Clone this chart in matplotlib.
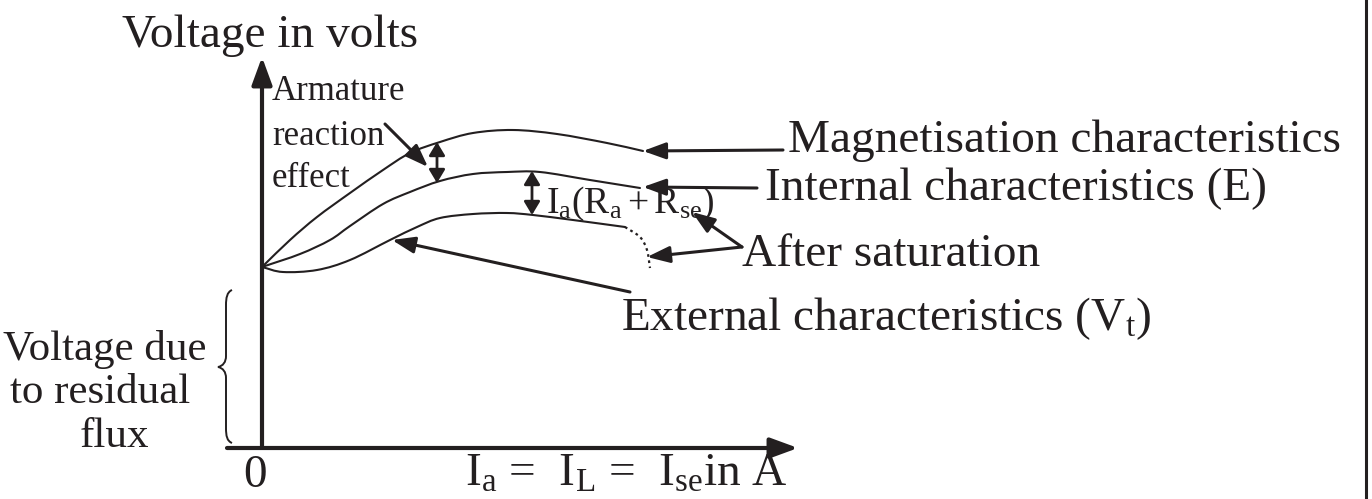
import numpy as np
import matplotlib
matplotlib.use("Agg")
import matplotlib.pyplot as plt
from matplotlib.path import Path
from matplotlib.patches import PathPatch

plt.rcParams["font.family"] = ["Liberation Serif", "DejaVu Serif"]
plt.rcParams["mathtext.fontset"] = "custom"
plt.rcParams["mathtext.rm"] = "Liberation Serif"
plt.rcParams["mathtext.it"] = "Liberation Serif:italic"
plt.rcParams["mathtext.bf"] = "Liberation Serif:bold"

INK = "#231f20"

# Characteristic curves (current along x, voltage along y; origin at 0, 0)
mag_i = [0, 28, 55, 88, 121, 148, 178, 211, 251, 295, 345, 381]
mag_v = [181, 208, 231, 255, 278, 295, 306, 315, 318, 314, 305, 297]

int_i = [0, 38, 68, 88, 121, 148, 178, 211, 245, 278, 328, 378]
int_v = [181, 194, 208, 222, 244, 256, 267, 274, 276, 276, 268, 260]

ext_i = [0, 21, 55, 88, 128, 155, 178, 211, 245, 271, 311, 363]
ext_v = [181, 176, 178, 188, 208, 221, 230, 234, 235, 233, 228, 221]

# External characteristic after saturation (dotted)
sat_i = [363, 378, 385, 388]
sat_v = [221, 211, 198, 180]


def spline_path(xs, ys):
    """Smooth Catmull-Rom curve through the given points as a Bezier path."""
    pts = np.column_stack([xs, ys]).astype(float)
    ext = np.vstack([2 * pts[0] - pts[1], pts, 2 * pts[-1] - pts[-2]])
    verts = [pts[0]]
    codes = [Path.MOVETO]
    for i in range(1, len(ext) - 2):
        p0, p1, p2, p3 = ext[i - 1], ext[i], ext[i + 1], ext[i + 2]
        verts += [p1 + (p2 - p0) / 6, p2 - (p3 - p1) / 6, p2]
        codes += [Path.CURVE4] * 3
    return Path(verts, codes)


fig = plt.figure(figsize=(13.72, 4.99), dpi=100)
ax = fig.add_axes([0, 0, 1, 1])
ax.set_xlim(-262, 1110)
ax.set_ylim(-51, 448)
ax.axis("off")


def arrow(tail, tip, lw=2.2, style="-|>", hl=0.55, hw=0.2, ms=25):
    ax.annotate("", xy=tip, xytext=tail,
                arrowprops=dict(arrowstyle=f"{style},head_length={hl},head_width={hw}",
                                lw=lw, color=INK, mutation_scale=ms,
                                shrinkA=0, shrinkB=0))


# Axes with arrow heads
arrow((0, 0), (0, 391), lw=3, hl=0.6, hw=0.22, ms=28)
arrow((-35, 0), (536, 0), lw=3, hl=0.6, hw=0.22, ms=28)

# Curves
for xs, ys in [(mag_i, mag_v), (int_i, int_v), (ext_i, ext_v)]:
    ax.add_patch(PathPatch(spline_path(xs, ys), fill=False, lw=1.5, ec=INK,
                           capstyle="round"))
ax.add_patch(PathPatch(spline_path(sat_i, sat_v), fill=False, lw=1.6, ec=INK,
                       ls=(0, (1.2, 1.6))))

# Residual-voltage brace
brace = Path(
    [(-30, 158), (-35, 156), (-36, 150), (-36, 143),
     (-36, 92),
     (-36, 86), (-39, 82), (-44, 81),
     (-39, 80), (-36, 76), (-36, 70),
     (-36, 20),
     (-36, 12), (-35, 7), (-30, 5)],
    [Path.MOVETO, Path.CURVE4, Path.CURVE4, Path.CURVE4,
     Path.LINETO,
     Path.CURVE4, Path.CURVE4, Path.CURVE4,
     Path.CURVE4, Path.CURVE4, Path.CURVE4,
     Path.LINETO,
     Path.CURVE4, Path.CURVE4, Path.CURVE4])
ax.add_patch(PathPatch(brace, fill=False, lw=1.4, ec=INK))

# Pointer arrows
arrow((123, 324), (166, 281))          # armature reaction
arrow((521, 298), (381, 297))          # magnetisation
arrow((495, 260), (381, 261))          # internal
arrow((480, 201), (430, 236))          # after saturation (upper)
arrow((480, 201), (385, 191))          # after saturation (lower)
arrow((368, 156), (130, 208))          # external

# Drop indicators (double-headed)
arrow((175, 265), (175, 306), lw=2.0, style="<|-|>", hl=0.5, hw=0.3, ms=16)
arrow((270, 233), (270, 277), lw=2.0, style="<|-|>", hl=0.5, hw=0.3, ms=16)

# Right frame line
ax.axvline(1104, color=INK, lw=2.2)

# Labels
kw = dict(color=INK, va="baseline")
ax.text(-140, 401, "Voltage in volts", fontsize=34, ha="left", **kw)
ax.text(10, 348, "Armature", fontsize=25, ha="left", **kw)
ax.text(10, 303, "reaction", fontsize=25, ha="left", **kw)
ax.text(10, 261, "effect", fontsize=25, ha="left", **kw)
ax.text(526, 296, "Magnetisation characteristics", fontsize=34, ha="left", **kw)
ax.text(503, 248, "Internal characteristics (E)", fontsize=34, ha="left", **kw)
ax.text(284, 235, r"$\mathrm{I_a(R_a+R_{se})}$", fontsize=27, ha="left", **kw)
ax.text(480, 182, "After saturation", fontsize=34, ha="left", **kw)
ax.text(359, 118, r"External characteristics ($\mathrm{V_t}$)", fontsize=34,
        ha="left", **kw)
ax.text(-157, 88, "Voltage due", fontsize=31, ha="center", **kw)
ax.text(-162, 45, "to residual", fontsize=31, ha="center", **kw)
ax.text(-148, 1, "flux", fontsize=31, ha="center", **kw)
ax.text(-7, -39, "0", fontsize=34, ha="center", **kw)
ax.text(203, -38, r"$\mathrm{I_a}$ =  $\mathrm{I_L}$ =  $\mathrm{I_{se}}$in A",
        fontsize=34, ha="left", **kw)

fig.savefig("out.png", dpi=100)
